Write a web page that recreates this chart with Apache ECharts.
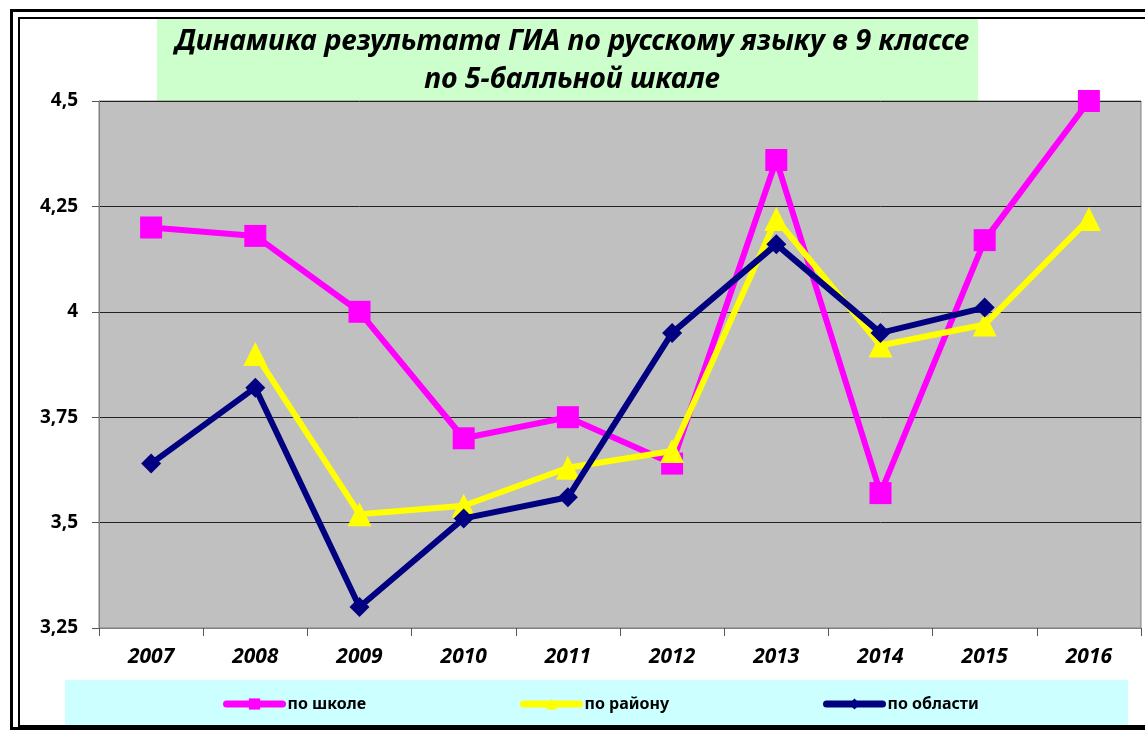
<!DOCTYPE html>
<html>
<head>
<meta charset="UTF-8">
<title>Динамика результата ГИА</title>
<script src="https://cdn.jsdelivr.net/npm/echarts@6/dist/echarts.min.js"></script>
<style>
	html, body { margin: 0; padding: 0; background: #fff; }
	#chart { width: 1145px; height: 731px; }
</style>
</head>
<body>
<div id="chart"></div>
<script type="text/javascript">
	// годы
	var years = ['2007', '2008', '2009', '2010', '2011', '2012', '2013', '2014', '2015', '2016'];
	// по школе
	var school = [4.2, 4.18, 4.0, 3.7, 3.75, 3.64, 4.36, 3.57, 4.17, 4.5];
	// по району
	var district = [null, 3.9, 3.52, 3.54, 3.63, 3.67, 4.22, 3.92, 3.97, 4.22];
	// по области
	var region = [3.64, 3.82, 3.3, 3.51, 3.56, 3.95, 4.16, 3.95, 4.01, null];

	var seriesNames = ['по школе', 'по району', 'по области'];

	var myChart = echarts.init(document.getElementById('chart'));

	var legendText = { fontFamily: 'Noto Sans', fontWeight: 'bold', fontSize: 16, color: '#000' };
	var legendLine = { width: 7, cap: 'round' };

	var option = {
		animation: false,
		backgroundColor: '#fff',
		title: {
			text: 'Динамика результата ГИА по русскому языку в 9 классе\nпо 5-балльной шкале',
			left: 567,
			top: 18,
			textAlign: 'center',
			textStyle: {
				fontFamily: 'Noto Sans',
				fontStyle: 'italic',
				fontWeight: 'bold',
				fontSize: 28.5,
				lineHeight: 38,
				color: '#000'
			}
		},
		graphic: [
			// рамка
			{ type: 'rect', z: -10, shape: { x: 11.5, y: 10.5, width: 1145, height: 718 }, style: { fill: 'none', stroke: '#000', lineWidth: 3 } },
			{ type: 'rect', z: -10, shape: { x: 19, y: 18, width: 1140, height: 708 }, style: { fill: 'none', stroke: '#000', lineWidth: 2 } },
			// фон заголовка
			{ type: 'rect', z: -9, shape: { x: 157, y: 19, width: 821, height: 82 }, style: { fill: '#CCFFCC' } },
			// фон легенды
			{ type: 'rect', z: -9, shape: { x: 65, y: 680, width: 1063, height: 45 }, style: { fill: '#CCFFFF' } }
		],
		legend: [
			{ data: [seriesNames[0]], left: 223, top: 696, padding: 0, itemWidth: 56, itemHeight: 14, itemGap: 4, lineStyle: legendLine, textStyle: legendText },
			{ data: [seriesNames[1]], left: 520, top: 696, padding: 0, itemWidth: 56, itemHeight: 14, itemGap: 4, lineStyle: legendLine, textStyle: legendText },
			{ data: [seriesNames[2]], left: 823, top: 696, padding: 0, itemWidth: 56, itemHeight: 14, itemGap: 4, lineStyle: legendLine, textStyle: legendText }
		],
		grid: {
			left: 99,
			right: 4,
			top: 101,
			bottom: 103,
			show: true,
			backgroundColor: '#C0C0C0',
			borderColor: '#808080',
			borderWidth: 1
		},
		xAxis: {
			type: 'category',
			data: years,
			boundaryGap: true,
			axisLine: { lineStyle: { color: '#808080', width: 1 } },
			axisTick: { show: true, length: 8, lineStyle: { color: '#555' } },
			axisLabel: {
				margin: 19,
				fontFamily: 'Noto Sans',
				fontStyle: 'italic',
				fontWeight: 'bold',
				fontSize: 21,
				color: '#000'
			}
		},
		yAxis: {
			type: 'value',
			min: 3.25,
			max: 4.5,
			interval: 0.25,
			axisLine: { show: true, lineStyle: { color: '#808080', width: 1 } },
			axisTick: { show: true, length: 7, lineStyle: { color: '#555' } },
			splitLine: { lineStyle: { color: '#222', width: 1 } },
			axisLabel: {
				margin: 21,
				fontFamily: 'Noto Sans',
				fontWeight: 'bold',
				fontSize: 19,
				color: '#000',
				formatter: function (v) { return String(+v.toFixed(2)).replace('.', ','); }
			}
		},
		series: [
			{
				name: seriesNames[0],
				type: 'line',
				data: school,
				symbol: 'rect',
				symbolSize: 22,
				itemStyle: { color: '#FF00FF' },
				lineStyle: { color: '#FF00FF', width: 6 },
				z: 3
			},
			{
				name: seriesNames[1],
				type: 'line',
				data: district,
				symbol: 'triangle',
				symbolSize: 24,
				itemStyle: { color: '#FFFF00' },
				lineStyle: { color: '#FFFF00', width: 6 },
				z: 4
			},
			{
				name: seriesNames[2],
				type: 'line',
				data: region,
				symbol: 'diamond',
				symbolSize: 20,
				itemStyle: { color: '#000080' },
				lineStyle: { color: '#000080', width: 6 },
				z: 5
			}
		]
	};

	myChart.setOption(option);
</script>
</body>
</html>
